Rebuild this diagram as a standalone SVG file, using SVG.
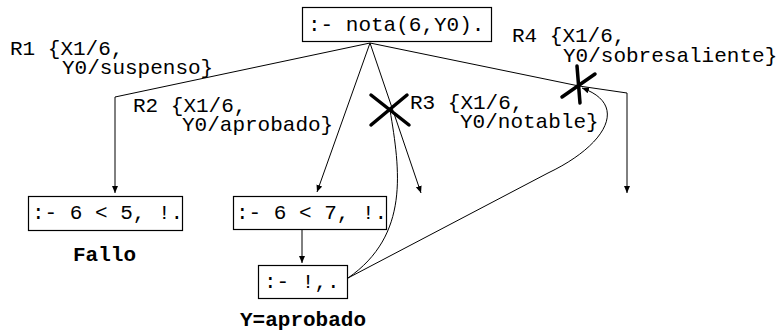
<svg xmlns="http://www.w3.org/2000/svg" width="782" height="333" viewBox="0 0 782 333">
<style>
text{font-family:"Liberation Mono","Courier New",monospace;font-size:21px;fill:#000}
.b{font-weight:bold}
.box{fill:#fff;stroke:#000;stroke-width:1.2}
.ln{fill:none;stroke:#000;stroke-width:1}
.x{stroke:#000;stroke-width:3.5;stroke-linecap:round}
</style>
<defs>
<marker id="ah" markerWidth="8" markerHeight="10" refX="7" refY="4" orient="auto" markerUnits="userSpaceOnUse">
<path d="M0,1 L7,4 L0,7 Z" fill="#000"/>
</marker>
</defs>
<rect width="782" height="333" fill="#fff"/>
<g id="connectors">
<polyline class="ln" points="370,43 115,97 115,193" marker-end="url(#ah)"/>
<line class="ln" x1="370" y1="43" x2="317" y2="192" marker-end="url(#ah)"/>
<line class="ln" x1="370" y1="43" x2="421" y2="193" marker-end="url(#ah)"/>
<polyline class="ln" points="370,43 579,86 627,93 627,193" marker-end="url(#ah)"/>
<line class="ln" x1="302" y1="230" x2="302" y2="263" marker-end="url(#ah)"/>
<path class="ln" d="M348,278 C410,235 400,170 390,110"/>
<path class="ln" d="M348,278 L548,173 C605,146 630,105 582,88" marker-end="url(#ah)"/>
</g>
<g id="cut3">
<line class="x" x1="371" y1="95" x2="409" y2="125"/>
<line class="x" x1="371" y1="125" x2="407" y2="95"/>
</g>
<g id="cut4">
<line class="x" x1="577" y1="66" x2="580" y2="103"/>
<line class="x" x1="562" y1="97" x2="595" y2="74"/>
</g>
<g id="root">
<rect class="box" x="302.5" y="7.5" width="189" height="34"/>
<text x="308" y="31">:- nota(6,Y0).</text>
</g>
<g id="r1label">
<text x="10" y="55">R1 {X1/6,</text>
<text x="62" y="74">Y0/suspenso}</text>
</g>
<g id="r2label">
<text x="133" y="112">R2 {X1/6,</text>
<text x="182" y="131">Y0/aprobado}</text>
</g>
<g id="r3label">
<text x="410" y="109">R3 {X1/6,</text>
<text x="460" y="128">Y0/notable}</text>
</g>
<g id="r4label">
<text x="512" y="42">R4 {X1/6,</text>
<text x="563" y="62">Y0/sobresaliente}</text>
</g>
<g id="n1">
<rect class="box" x="28.5" y="196.5" width="154" height="34"/>
<text x="32" y="219">:- 6 &lt; 5, !.</text>
<text class="b" x="73" y="261">Fallo</text>
</g>
<g id="n2">
<rect class="box" x="233.5" y="196.5" width="153" height="33"/>
<text x="236" y="219">:- 6 &lt; 7, !.</text>
</g>
<g id="n3">
<rect class="box" x="258.5" y="265.5" width="89" height="33"/>
<text x="264" y="288">:- !,.</text>
<text class="b" x="240" y="326">Y=aprobado</text>
</g>
</svg>
